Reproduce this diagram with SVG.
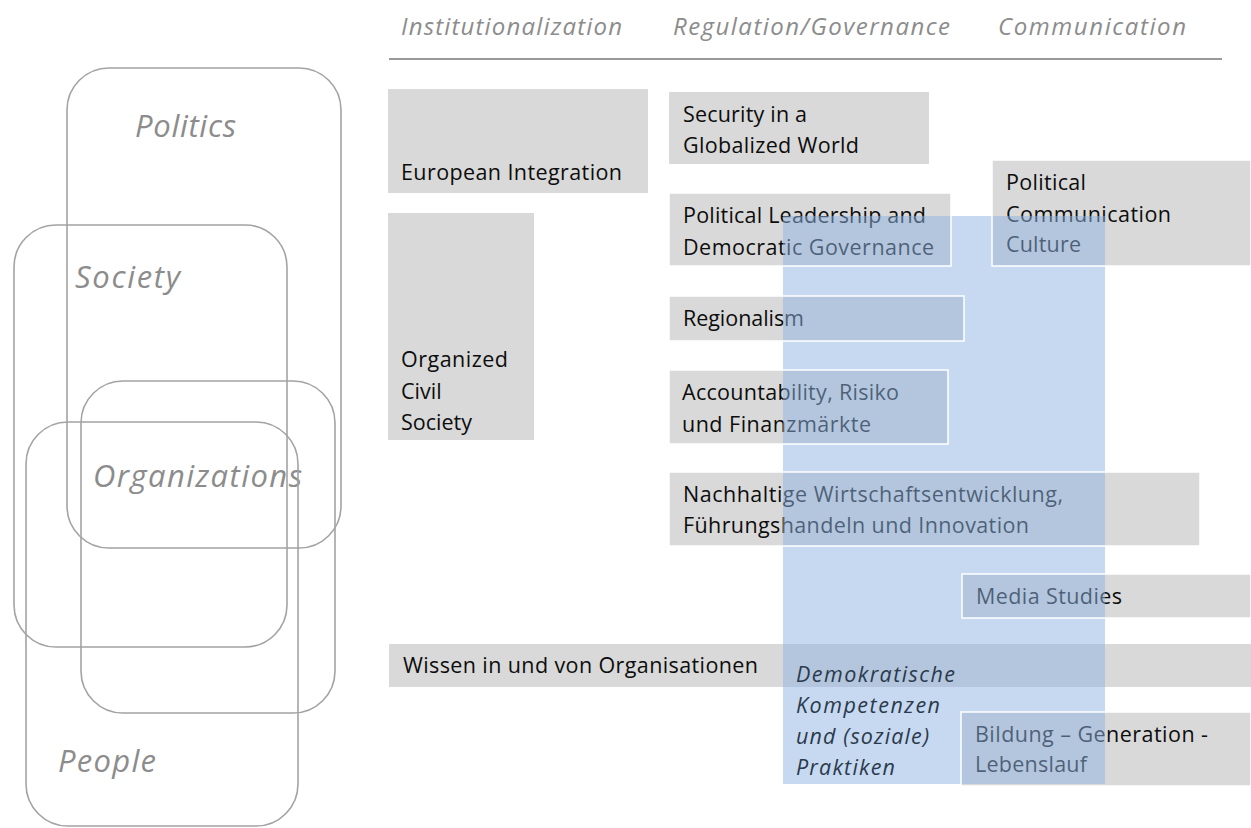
<svg xmlns="http://www.w3.org/2000/svg" width="1251" height="828" viewBox="0 0 1251 828">
<style>
  .oval { fill: none; stroke: #a3a3a3; stroke-width: 1.6; }
  .lbl { font-family: "Open Sans", "Liberation Sans", Arial, sans-serif; font-style: italic; font-size: 31px; fill: #8c8c8c; }
  .hdr { font-family: "Open Sans", "Liberation Sans", Arial, sans-serif; font-style: italic; font-size: 24px; fill: #8c8c8c; }
  .box { fill: #d9d9d9; }
  .txt { font-family: "Open Sans", "Liberation Sans", Arial, sans-serif; font-size: 21.5px; fill: #0d0d0d; }
  .edge { fill: none; stroke: #ffffff; stroke-width: 1.5; }
  .blue { fill: #8db3e2; fill-opacity: 0.5; }
  .it { font-family: "Open Sans", "Liberation Sans", Arial, sans-serif; font-style: italic; font-size: 21.5px; fill: #2b3a4c; }
</style>
<rect x="0" y="0" width="1251" height="828" fill="#ffffff"/>

<!-- Left overlapping domains -->
<g id="politics">
  <rect class="oval" x="67" y="68" width="274" height="480" rx="42" ry="42"/>
  <text class="lbl" x="135" y="137" textLength="101">Politics</text>
</g>
<g id="society">
  <rect class="oval" x="14" y="225" width="273" height="422" rx="42" ry="42"/>
  <text class="lbl" x="75" y="288" textLength="105">Society</text>
</g>
<g id="organizations">
  <rect class="oval" x="81" y="381" width="254" height="332" rx="42" ry="42"/>
  <text class="lbl" x="93" y="487" textLength="209">Organizations</text>
</g>
<g id="people">
  <rect class="oval" x="26" y="422" width="272" height="404" rx="42" ry="42"/>
  <text class="lbl" x="58" y="772" textLength="98">People</text>
</g>

<!-- Column headers -->
<g id="headers">
  <text class="hdr" x="401" y="35" textLength="221">Institutionalization</text>
  <text class="hdr" x="673" y="35" textLength="277">Regulation/Governance</text>
  <text class="hdr" x="998" y="35" textLength="188">Communication</text>
  <line x1="389" y1="59" x2="1222" y2="59" stroke="#999999" stroke-width="2"/>
</g>

<!-- Topic boxes -->
<g id="european-integration">
  <rect class="box" x="388" y="89" width="260" height="104"/>
  <text class="txt" x="401" y="180" textLength="221">European Integration</text>
</g>
<g id="organized-civil-society">
  <rect class="box" x="388" y="213" width="146" height="227"/>
  <text class="txt" x="401" y="367" textLength="107">Organized</text>
  <text class="txt" x="401" y="399">Civil</text>
  <text class="txt" x="401" y="430">Society</text>
</g>
<g id="security">
  <rect class="box" x="669" y="92" width="260" height="72"/>
  <text class="txt" x="683" y="122" textLength="124">Security in a</text>
  <text class="txt" x="683" y="153" textLength="176">Globalized World</text>
</g>
<g id="political-leadership">
  <rect class="box" x="669" y="193" width="282" height="73"/>
  <text class="txt" x="683" y="223" textLength="243">Political Leadership and</text>
  <text class="txt" x="683" y="255" textLength="251">Democratic Governance</text>
</g>
<g id="political-communication">
  <rect class="box" x="992" y="160" width="259" height="106"/>
  <text class="txt" x="1006" y="190" textLength="80">Political</text>
  <text class="txt" x="1006" y="222" textLength="165">Communication</text>
  <text class="txt" x="1006" y="252" textLength="75">Culture</text>
</g>
<g id="regionalism">
  <rect class="box" x="669" y="296" width="295" height="45"/>
  <text class="txt" x="683" y="326" textLength="121">Regionalism</text>
</g>
<g id="accountability">
  <rect class="box" x="669" y="370" width="279" height="74"/>
  <text class="txt" x="682" y="400" textLength="217">Accountability, Risiko</text>
  <text class="txt" x="682" y="432" textLength="189">und Finanzmärkte</text>
</g>
<g id="nachhaltige">
  <rect class="box" x="669" y="472" width="531" height="74"/>
  <text class="txt" x="683" y="502" textLength="380">Nachhaltige Wirtschaftsentwicklung,</text>
  <text class="txt" x="683" y="533" textLength="346">Führungshandeln und Innovation</text>
</g>
<g id="media-studies">
  <rect class="box" x="962" y="574" width="289" height="44"/>
  <text class="txt" x="976" y="604" textLength="146">Media Studies</text>
</g>
<g id="wissen">
  <rect class="box" x="389" y="644" width="862" height="43"/>
  <text class="txt" x="403" y="673" textLength="355">Wissen in und von Organisationen</text>
</g>
<g id="bildung">
  <rect class="box" x="961" y="712" width="290" height="74"/>
  <text class="txt" x="975" y="742" textLength="233">Bildung – Generation -</text>
  <text class="txt" x="975" y="772" textLength="112">Lebenslauf</text>
</g>

<!-- Cross-cutting transparent field -->
<g id="demokratische-kompetenzen">
  <rect class="blue" x="783" y="216" width="322" height="568"/>
  <g>
    <rect class="edge" x="669" y="193" width="282" height="73"/>
    <rect class="edge" x="992" y="160" width="259" height="106"/>
    <rect class="edge" x="669" y="296" width="295" height="45"/>
    <rect class="edge" x="669" y="370" width="279" height="74"/>
    <rect class="edge" x="669" y="472" width="531" height="74"/>
    <rect class="edge" x="962" y="574" width="289" height="44"/>
    <rect class="edge" x="961" y="712" width="290" height="74"/>
  </g>
  <text class="it" x="796" y="682" textLength="159">Demokratische</text>
  <text class="it" x="796" y="713" textLength="144">Kompetenzen</text>
  <text class="it" x="796" y="744" textLength="133">und (soziale)</text>
  <text class="it" x="796" y="775" textLength="99">Praktiken</text>
</g>
</svg>
